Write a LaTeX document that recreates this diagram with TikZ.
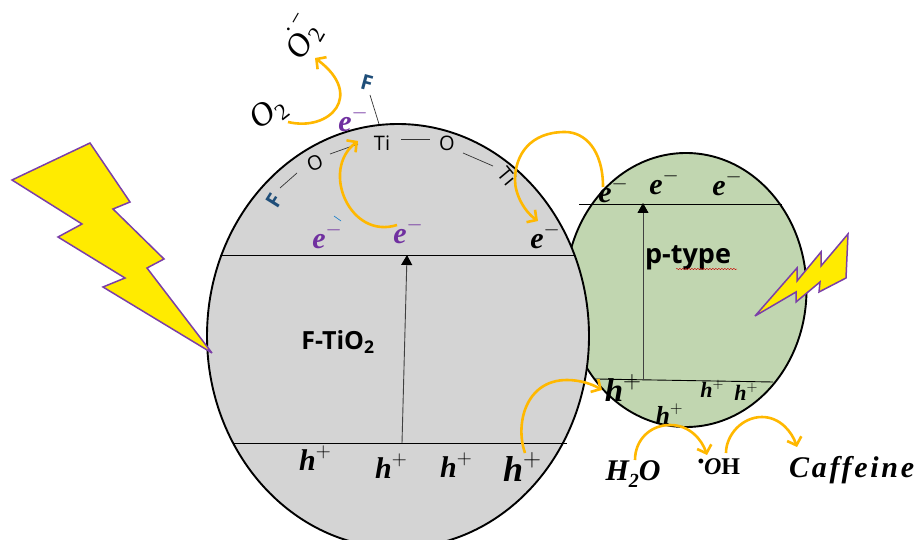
\documentclass[tikz,border=0pt]{standalone}
\usepackage{fontspec}
\setmainfont{Liberation Serif}
\newfontfamily\labelfont{Open Sans}
\newfontfamily\spacedfont[LetterSpace=9]{Liberation Serif}
\usetikzlibrary{arrows.meta,shapes.geometric,decorations.pathmorphing}
\definecolor{grayfill}{HTML}{D4D4D4}
\definecolor{greenfill}{HTML}{C1D6B0}
\definecolor{bolty}{HTML}{FFEB00}
\definecolor{boltp}{HTML}{7B3FA8}
\definecolor{orangec}{HTML}{FFB800}
\definecolor{purp}{HTML}{7030A0}
\definecolor{blueF}{HTML}{1F4E79}
\newcommand{\carrier}[3]{\fontsize{#3}{#3}\selectfont\textbf{\textit{#1}}\raisebox{0.42em}{\fontsize{0.7em}{0.7em}\selectfont\ensuremath{\mathbf{#2}}}}
\tikzset{
  particle/.style={ellipse,draw=black,line width=1.9pt,inner sep=0pt},
  bolt/.style={fill=bolty,draw=boltp,line width=1.5pt,line join=miter,miter limit=4},
  band/.style={draw=black,line width=0.9pt},
  excite/.style={draw=black!75,line width=0.9pt,-{Triangle[length=10pt,width=11pt,black]}},
  bond/.style={draw=black!80,line width=0.7pt},
  flow/.style={draw=orangec,line width=2.6pt,-{Straight Barb[length=7pt,width=15pt,line width=2.6pt]}},
  chem/.style={inner sep=0pt,text=black},
  atom/.style={inner sep=0pt,font=\labelfont\fontsize{20}{20}\selectfont},
  fatom/.style={inner sep=0pt,text=blueF,font=\labelfont\bfseries\fontsize{21}{21}\selectfont},
  title/.style={inner sep=0pt,font=\labelfont\bfseries},
}
\begin{document}
\begin{tikzpicture}[x=1pt,y=-1pt]
\clip (0,0) rectangle (919,540);
\fill[white] (0,0) rectangle (919,540);
% particles
\node[particle,fill=greenfill,minimum width=241pt,minimum height=274pt] (ptype) at (686,290) {};
\node[particle,fill=grayfill,minimum width=382pt,minimum height=424pt] (ftio) at (398,336) {};
% bolts
\draw[bolt] (12,180)--(90,143)--(130,202)--(113,209)--(164,259)--(147,268)--(212,353)--(103,287)--(125,278)--(58,237)--(82,224)--cycle;
\draw[bolt] (755,316)--(797,268)--(797,281)--(821,252)--(821,266)--(848,234)--(846,278)--(819,292)--(820,282)--(796,302)--(796,292)--cycle;
% bands
\coordinate (g1l) at (220,255); \coordinate (g1r) at (575,255);
\coordinate (g2l) at (233,443); \coordinate (g2r) at (567,443);
\coordinate (g2m) at (402,443); \coordinate (g1m) at (407,255);
\coordinate (p1l) at (579,204); \coordinate (p1r) at (782,204);
\coordinate (p2l) at (595,379); \coordinate (p2r) at (773,382);
\coordinate (p2m) at (643,380); \coordinate (p1m) at (643,203);
\draw[band] (g1l)--(g1r);
\draw[band] (g2l)--(g2r);
\draw[band] (p1l)--(p1r);
\draw[band] (p2l)--(p2r);
\draw[excite] (g2m)--(g1m);
\draw[excite] (p2m)--(p1m);
% surface atoms
\node[fatom,rotate=-15] (f1) at (367,83) {F};
\node[fatom,rotate=58] (f2) at (274,201) {F};
\node[atom,rotate=22] (o1) at (315,163) {O};
\node[atom] (ti1) at (382,143) {Ti};
\node[atom] (o2) at (447,143) {O};
\node[atom,rotate=-50] (ti2) at (507,176) {Ti};
\coordinate (fs) at (379,124);
\draw[bond] (f1)++(3,12) -- (fs);
\draw[bond] (280,188)--(297,173);
\draw[bond] (330,154)--(358,144);
\draw[bond] (401,139)--(430,139);
\draw[bond] (463,153)--(493,166);
% oxygen species
\node[chem,rotate=38] (otwo) at (269,114) {\fontsize{33}{33}\selectfont\textit{O}\raisebox{-0.2em}{\fontsize{23}{23}\selectfont 2}};
\node[chem,rotate=60] (orad) at (303,38) {\fontsize{33}{33}\selectfont\textit{O}\rlap{\raisebox{-0.2em}{\fontsize{23}{23}\selectfont 2}}\hspace{1pt}\raisebox{0.6em}{\fontsize{23}{23}\selectfont\kern-8pt·\kern3pt−}};
% carriers
\node[chem,text=purp] (e1) at (353,119) {\carrier{e}{-}{30}};
\node[chem,text=purp] (e2) at (327,236) {\carrier{e}{-}{30}};
\node[chem,text=purp] (e3) at (408,231) {\carrier{e}{-}{30}};
\node[chem] (e4) at (545,236) {\carrier{e}{-}{30}};
\node[chem] (e5) at (613,190) {\carrier{e}{-}{30}};
\node[chem] (e6) at (664,182) {\carrier{e}{-}{30}};
\node[chem] (e7) at (727,183) {\carrier{e}{-}{30}};
\draw[cyan!60!blue,line width=0.6pt] (334,216)--(341,221);
\node[chem] (h1) at (315,458) {\carrier{h}{+}{30}};
\node[chem] (h2) at (391,466) {\carrier{h}{+}{30}};
\node[chem] (h3) at (456,465) {\carrier{h}{+}{30}};
\node[chem] (h4) at (522,467) {\carrier{h}{+}{36}};
\node[chem] (h5) at (623,388) {\carrier{h}{+}{33}};
\node[chem] (h6) at (712,389) {\carrier{h}{+}{22}};
\node[chem] (h7) at (746,392) {\carrier{h}{+}{22}};
\node[chem] (h8) at (669,414) {\carrier{h}{+}{26}};
% titles
\node[title,font=\labelfont\bfseries\fontsize{25}{26}\selectfont] (ftitle) at (338,342) {F-TiO\textsubscript{2}};
\node[title,font=\labelfont\bfseries\fontsize{27}{28}\selectfont] (ptitle) at (688,258) {p-type};
\draw[red!80!black,line width=0.4pt,decorate,decoration={snake,amplitude=0.7pt,segment length=3pt}] (676,269)--(737,269);
% products
\node[chem] (water) at (633,474) {\fontsize{30}{30}\selectfont\textbf{\textit{H\raisebox{-0.25em}{\fontsize{20}{20}\selectfont 2}O}}};
\node[chem] (oh) at (719,467) {\fontsize{24}{24}\selectfont\raisebox{0.3em}{\fontsize{18}{18}\selectfont\textbf{•}}\textbf{\textit{O}}\textbf{H}};
\node[chem] (caf) at (853,470) {\spacedfont\fontsize{30}{30}\selectfont\textbf{\textit{Caffeine}}};
% flows
\draw[flow] (288,122) .. controls (330,132) and (365,95) .. (315,58);
\draw[flow] (397,225) .. controls (350,240) and (320,170) .. (358,141);
\draw[flow] (603,187) .. controls (603,150) and (585,132) .. (565,132) .. controls (530,132) and (515,155) .. (515,180) .. controls (515,195) and (525,212) .. (538,221);
\draw[flow] (525,453) .. controls (515,425) and (525,380) .. (567,380) .. controls (580,380) and (592,384) .. (602,390);
\draw[flow] (635,460) .. controls (635,440) and (650,425) .. (670,425) .. controls (690,425) and (702,440) .. (707,455);
\draw[flow] (726,453) .. controls (726,435) and (742,417) .. (762,417) .. controls (780,417) and (792,432) .. (797,447);
\end{tikzpicture}
\end{document}
